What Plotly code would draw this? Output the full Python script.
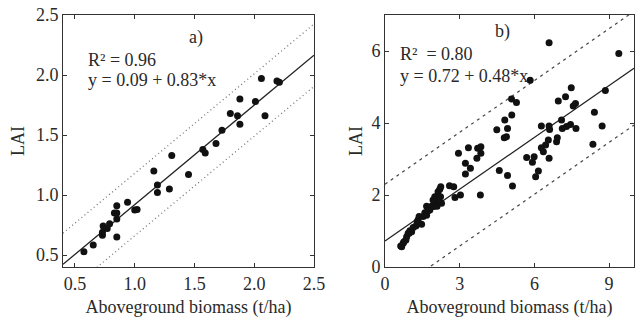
import plotly.graph_objects as go

# ---------------- Panel a data ----------------
a_x = [0.575, 0.653, 0.73, 0.73, 0.736, 0.77, 0.79, 0.83, 0.85, 0.85, 0.85, 0.85, 0.94, 1.0, 1.02,
       1.16, 1.19, 1.19, 1.29, 1.31, 1.45, 1.57, 1.59, 1.68, 1.73, 1.80, 1.86, 1.88, 1.88,
       2.01, 2.06, 2.09, 2.19, 2.21]
a_y = [0.528, 0.583, 0.664, 0.69, 0.742, 0.72, 0.76, 0.85, 0.80, 0.85, 0.91, 0.65, 0.94, 0.875, 0.88,
       1.20, 1.083, 1.02, 1.05, 1.33, 1.17, 1.38, 1.35, 1.43, 1.54, 1.68, 1.66, 1.80, 1.59,
       1.78, 1.97, 1.66, 1.95, 1.94]
a_intercept, a_slope, a_band = 0.09, 0.83, 0.26
a_range = [0.4, 2.5]
a_ticks = [0.5, 1.0, 1.5, 2.0, 2.5]
a_ticktext = ["0.5", "1.0", "1.5", "2.0", "2.5"]

# ---------------- Panel b data ----------------
b_x = [0.63, 0.67, 0.73, 0.76, 0.84, 0.87, 0.93, 0.97, 1.0, 1.07, 1.13, 1.24, 1.29, 1.33, 1.37,
       1.47, 1.53, 1.6, 1.67, 1.67, 1.73, 1.80, 1.87, 1.93, 1.96, 2.0, 2.07, 2.07, 2.09, 2.13,
       2.2, 2.23, 2.24, 2.27,
       2.59, 2.76, 2.81, 3.03, 2.95, 3.35, 3.23, 3.43, 3.23, 3.72, 3.85, 3.85, 3.69, 3.83,
       4.49, 4.81, 4.92, 4.88, 4.79, 5.08, 5.28, 5.09, 4.59, 4.92, 5.12, 5.83,
       5.69, 5.99, 5.92, 6.16, 6.05, 6.28, 6.36, 6.45, 6.56, 6.59, 6.59, 6.61, 6.28, 6.59,
       6.89, 6.92, 6.96, 7.09, 7.12, 7.25, 7.29, 7.45, 7.48, 7.56, 7.65, 7.67,
       8.35, 8.41, 8.72, 8.85, 9.39]
b_y = [0.58, 0.56, 0.66, 0.70, 0.75, 0.84, 0.94, 0.94, 1.01, 0.98, 1.10, 1.14, 1.26, 1.31, 1.40,
       1.19, 1.40, 1.51, 1.44, 1.69, 1.56, 1.58, 1.69, 1.86, 1.68, 1.95, 1.81, 1.95, 1.69, 2.09,
       2.16, 1.95, 2.23, 1.77,
       2.26, 2.23, 1.93, 2.0, 3.16, 3.31, 2.88, 2.74, 2.58, 3.30, 3.34, 3.16, 3.02, 2.0,
       3.81, 4.08, 3.85, 3.62, 3.59, 4.67, 4.57, 4.22, 2.68, 2.54, 2.25, 5.19,
       3.04, 3.06, 2.91, 2.67, 2.51, 3.31, 3.20, 3.39, 3.53, 3.02, 3.92, 3.82, 3.92, 6.23,
       3.48, 3.59, 4.61, 4.08, 3.85, 4.73, 3.90, 3.96, 4.98, 4.47, 4.54, 3.85,
       3.41, 4.30, 3.92, 4.90, 5.93]
b_intercept, b_slope, b_band = 0.72, 0.48, 1.58
b_range_x = [0, 10]
b_range_y = [0, 7]
b_xticks = [0, 3, 6, 9]
b_yticks = [0, 2, 4, 6]

FONT = "Liberation Serif"
TXT = "#2a2a2a"

fig = go.Figure()

# panel a
ax = a_range
fig.add_trace(go.Scatter(x=ax, y=[a_intercept + a_band + a_slope * v for v in ax], mode="lines",
                         line=dict(color="#777", width=1.3, dash="1px,3px"), xaxis="x", yaxis="y", showlegend=False))
fig.add_trace(go.Scatter(x=ax, y=[a_intercept - a_band + a_slope * v for v in ax], mode="lines",
                         line=dict(color="#777", width=1.3, dash="1px,3px"), xaxis="x", yaxis="y", showlegend=False))
fig.add_trace(go.Scatter(x=ax, y=[a_intercept + a_slope * v for v in ax], mode="lines",
                         line=dict(color="#222", width=1.3), xaxis="x", yaxis="y", showlegend=False))
fig.add_trace(go.Scatter(x=a_x, y=a_y, mode="markers", marker=dict(color="#111", size=7),
                         xaxis="x", yaxis="y", showlegend=False))

# panel b
bx = b_range_x
fig.add_trace(go.Scatter(x=bx, y=[b_intercept + b_band + b_slope * v for v in bx], mode="lines",
                         line=dict(color="#444", width=1.2, dash="3px,4px"), xaxis="x2", yaxis="y2", showlegend=False))
fig.add_trace(go.Scatter(x=bx, y=[b_intercept - b_band + b_slope * v for v in bx], mode="lines",
                         line=dict(color="#444", width=1.2, dash="3px,4px"), xaxis="x2", yaxis="y2", showlegend=False))
fig.add_trace(go.Scatter(x=bx, y=[b_intercept + b_slope * v for v in bx], mode="lines",
                         line=dict(color="#222", width=1.3), xaxis="x2", yaxis="y2", showlegend=False))
fig.add_trace(go.Scatter(x=b_x, y=b_y, mode="markers", marker=dict(color="#111", size=7),
                         xaxis="x2", yaxis="y2", showlegend=False))

axis_common = dict(showline=True, linecolor="#333", linewidth=1, mirror="ticks", ticks="inside",
                   ticklen=4, tickcolor="#333", showgrid=False, zeroline=False,
                   tickfont=dict(family=FONT, size=18, color=TXT), automargin=False)
title_font = dict(family=FONT, size=18, color=TXT)

ydom = [1 - 267 / 321, 1 - 15 / 321]
fig.update_layout(
    width=637, height=321, margin=dict(l=0, r=0, t=0, b=0),
    paper_bgcolor="white", plot_bgcolor="white",
    xaxis=dict(domain=[63 / 637, 314 / 637], range=a_range, tickvals=a_ticks, ticktext=a_ticktext,
               title=dict(text="Aboveground biomass (t/ha)", font=title_font, standoff=7), anchor="y",
               **axis_common),
    yaxis=dict(domain=ydom, range=a_range, tickvals=a_ticks, ticktext=a_ticktext,
               title=dict(text="LAI", font=title_font, standoff=6), anchor="x", **axis_common),
    xaxis2=dict(domain=[385 / 637, 634 / 637], range=b_range_x, tickvals=b_xticks,
                title=dict(text="Aboveground biomass (t/ha)", font=title_font, standoff=7), anchor="y2",
                **axis_common),
    yaxis2=dict(domain=ydom, range=b_range_y, tickvals=b_yticks,
                title=dict(text="LAI", font=title_font, standoff=4), anchor="x2", **axis_common),
)

ann_font = dict(family=FONT, size=18, color=TXT)
fig.add_annotation(x=1.51, y=2.31, xref="x", yref="y", text="a)", showarrow=False, font=ann_font)
fig.add_annotation(x=0.59, y=2.125, xref="x", yref="y", text="R² = 0.96", showarrow=False,
                   xanchor="left", font=ann_font)
fig.add_annotation(x=0.59, y=1.955, xref="x", yref="y", text="y = 0.09 + 0.83*x", showarrow=False,
                   xanchor="left", font=ann_font)
fig.add_annotation(x=4.72, y=6.53, xref="x2", yref="y2", text="b)", showarrow=False, font=ann_font)
fig.add_annotation(x=0.52, y=5.92, xref="x2", yref="y2", text="R²  = 0.80", showarrow=False,
                   xanchor="left", font=ann_font)
fig.add_annotation(x=0.52, y=5.31, xref="x2", yref="y2", text="y = 0.72 + 0.48*x", showarrow=False,
                   xanchor="left", font=ann_font)

fig.write_html("out.html")
